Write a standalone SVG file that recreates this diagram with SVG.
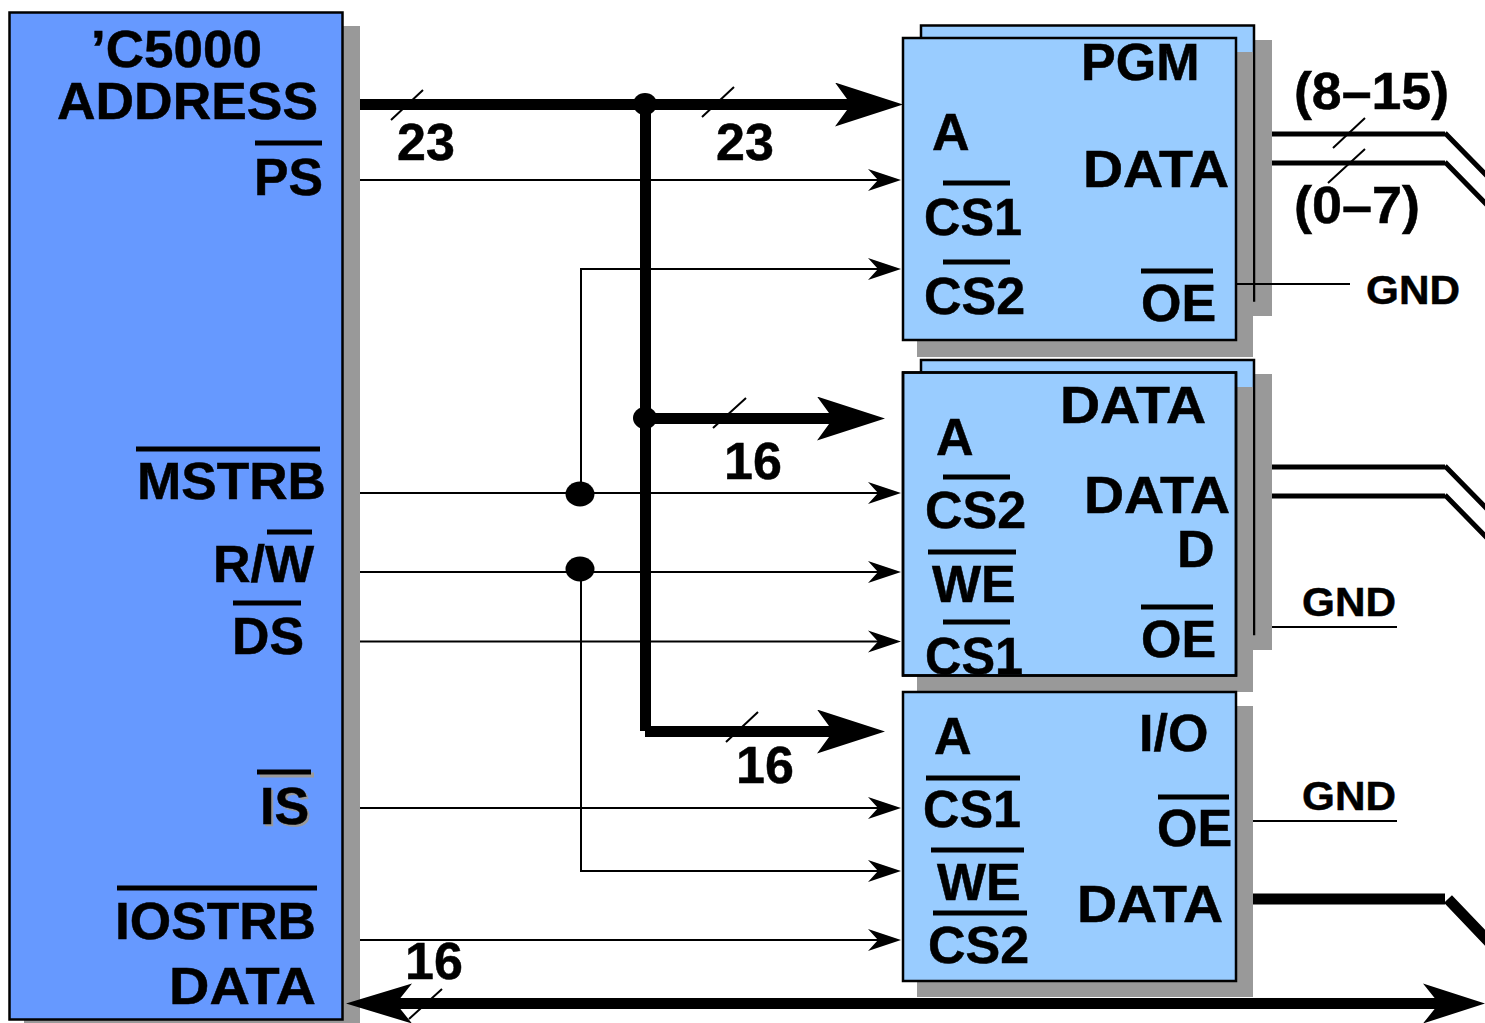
<svg xmlns="http://www.w3.org/2000/svg" width="1485" height="1023" viewBox="0 0 1485 1023">
<style>
text{font-family:"Liberation Sans",Arial,sans-serif;font-weight:700;font-size:52px;fill:#000;stroke:#000;stroke-width:.5}
.gnd{font-size:41px}
.ol{stroke:#000;stroke-width:5;fill:none}
.sh{fill:#999}
.main{fill:#69f;stroke:#000;stroke-width:2.500}
.chip{fill:#9cf;stroke:#000;stroke-width:2.500}
.frame{fill:none;stroke:#000;stroke-width:2.500}
.thin{stroke:#000;stroke-width:2;fill:none}
.tick{stroke:#000;stroke-width:2;fill:none}
.bus{stroke:#000;stroke-width:11;fill:none}
.dbl{stroke:#000;stroke-width:5;fill:none}
.ghost{fill:#999;stroke:#999}
</style>
<defs>
<marker id="a" markerUnits="userSpaceOnUse" markerWidth="33" markerHeight="24" viewBox="0 0 33 24" refX="10" refY="12" orient="auto"><path d="M0,1L33,12L0,23L10,12Z"/></marker>
<marker id="b" markerUnits="userSpaceOnUse" markerWidth="68" markerHeight="44" viewBox="0 0 68 44" refX="16" refY="22" orient="auto"><path d="M0,0L68,22L0,44L16,22Z"/></marker>
<marker id="c" markerUnits="userSpaceOnUse" markerWidth="62" markerHeight="42" viewBox="0 0 62 42" refX="16" refY="21" orient="auto"><path d="M0,1L62,21L0,41L16,21Z"/></marker>
<marker id="d" markerUnits="userSpaceOnUse" markerWidth="66" markerHeight="42" viewBox="0 0 66 42" refX="50" refY="21" orient="auto"><path d="M66,1L0,21L66,41L50,21Z"/></marker>
</defs>
<rect width="1485" height="1023" fill="#fff"/>

<g id="dsp">
<rect class="sh" x="24" y="26" width="336" height="997"/>
<rect class="main" x="9.500" y="12.500" width="333" height="1007"/>
<text x="91" y="67" textLength="171" lengthAdjust="spacingAndGlyphs">’C5000</text>
<text x="57" y="119" textLength="261" lengthAdjust="spacingAndGlyphs">ADDRESS</text>
<text x="254" y="195" textLength="69" lengthAdjust="spacingAndGlyphs">PS</text><line class="ol" x1="255" y1="143" x2="322" y2="143"/>
<text x="137" y="499" textLength="189" lengthAdjust="spacingAndGlyphs">MSTRB</text><line class="ol" x1="136" y1="449" x2="320" y2="449"/>
<text x="213" y="582">R/W</text><line class="ol" x1="267" y1="532" x2="312" y2="532"/>
<text x="232" y="654" textLength="72" lengthAdjust="spacingAndGlyphs">DS</text><line class="ol" x1="233" y1="603" x2="301" y2="603"/>
<text class="ghost" x="262" y="826">IS</text><line class="ol" style="stroke:#999" x1="260" y1="775" x2="314" y2="775"/>
<text x="260" y="824">IS</text><line class="ol" x1="257" y1="772" x2="311" y2="772"/>
<text x="115" y="939" textLength="201" lengthAdjust="spacingAndGlyphs">IOSTRB</text><line class="ol" x1="117" y1="888" x2="317" y2="888"/>
<text x="169" y="1004" textLength="147" lengthAdjust="spacingAndGlyphs">DATA</text>
</g>

<g id="chip-pgm">
<rect class="sh" x="938" y="40" width="334" height="276"/>
<rect class="chip" x="921" y="25.500" width="333" height="275"/>
<rect class="sh" x="917" y="52" width="336" height="305"/>
<rect class="chip" x="903" y="38" width="333" height="302"/>
<text x="1081" y="80">PGM</text>
<text x="932" y="150">A</text>
<text x="924" y="235" textLength="98" lengthAdjust="spacingAndGlyphs">CS1</text><line class="ol" x1="943" y1="183" x2="1010" y2="183"/>
<text x="924" y="314">CS2</text><line class="ol" x1="943" y1="262" x2="1010" y2="262"/>
<text x="1083" y="187" textLength="146" lengthAdjust="spacingAndGlyphs">DATA</text>
<text x="1141" y="321">OE</text><line class="ol" x1="1141" y1="271" x2="1213" y2="271"/>
<text class="gnd" x="1366" y="304" textLength="94" lengthAdjust="spacingAndGlyphs">GND</text>
<text x="1294" y="109" textLength="155" lengthAdjust="spacingAndGlyphs">(8–15)</text>
<text x="1294" y="223" textLength="126" lengthAdjust="spacingAndGlyphs">(0–7)</text>
</g>

<g id="chip-data">
<rect class="sh" x="938" y="374" width="334" height="276"/>
<rect class="chip" x="921" y="360" width="333" height="274"/>
<rect class="sh" x="917" y="387" width="336" height="305"/>
<rect class="chip" x="903" y="372.500" width="333" height="303"/>
<text x="1060" y="423" textLength="146" lengthAdjust="spacingAndGlyphs">DATA</text>
<text x="936" y="455">A</text>
<text x="925" y="528">CS2</text><line class="ol" x1="943" y1="477" x2="1010" y2="477"/>
<text x="1084" y="513" textLength="146" lengthAdjust="spacingAndGlyphs">DATA</text>
<text x="1177" y="567">D</text>
<text x="932" y="602">WE</text><line class="ol" x1="928" y1="552" x2="1016" y2="552"/>
<text x="925" y="674" textLength="98" lengthAdjust="spacingAndGlyphs">CS1</text><line class="ol" x1="943" y1="622" x2="1010" y2="622"/>
<text x="1141" y="657">OE</text><line class="ol" x1="1141" y1="607" x2="1213" y2="607"/>
<text class="gnd" x="1302" y="616" textLength="94" lengthAdjust="spacingAndGlyphs">GND</text>
<rect class="frame" x="903" y="372.500" width="333" height="303"/>
</g>

<g id="chip-io">
<rect class="sh" x="917" y="706" width="336" height="291"/>
<rect class="chip" x="903" y="692" width="333" height="289"/>
<text x="934" y="754">A</text>
<text x="1139" y="751">I/O</text>
<text x="923" y="827" textLength="98" lengthAdjust="spacingAndGlyphs">CS1</text><line class="ol" x1="926" y1="778" x2="1020" y2="778"/>
<text x="937" y="900">WE</text><line class="ol" x1="931" y1="850" x2="1024" y2="850"/>
<text x="928" y="963">CS2</text><line class="ol" x1="933" y1="913" x2="1027" y2="913"/>
<text x="1157" y="846">OE</text><line class="ol" x1="1158" y1="797" x2="1229" y2="797"/>
<text x="1077" y="922" textLength="146" lengthAdjust="spacingAndGlyphs">DATA</text>
<text class="gnd" x="1302" y="810" textLength="94" lengthAdjust="spacingAndGlyphs">GND</text>
</g>

<g id="connectors">
<path class="thin" d="M360,180H878" marker-end="url(#a)"/>
<path class="thin" d="M581,494V269H878" marker-end="url(#a)"/>
<path class="thin" d="M360,493H878" marker-end="url(#a)"/>
<path class="thin" d="M360,572H878" marker-end="url(#a)"/>
<path class="thin" d="M360,641.500H878" marker-end="url(#a)"/>
<path class="thin" d="M360,808H878" marker-end="url(#a)"/>
<path class="thin" d="M581,569V871H878" marker-end="url(#a)"/>
<path class="thin" d="M360,940H878" marker-end="url(#a)"/>
<path class="bus" d="M360,104.500H851" marker-end="url(#b)"/>
<path class="bus" d="M645.500,104V731"/>
<path class="bus" d="M645,418.500H833" marker-end="url(#b)"/>
<path class="bus" d="M645,731.500H833" marker-end="url(#b)"/>
<path class="bus" d="M396,1003.500H1439" marker-start="url(#d)" marker-end="url(#c)"/>
<ellipse cx="645" cy="104" rx="12" ry="11"/>
<ellipse cx="645" cy="418" rx="12" ry="11"/>
<ellipse cx="580" cy="494" rx="14.500" ry="12.500"/>
<ellipse cx="580" cy="569" rx="14.500" ry="12.500"/>
<path class="tick" d="M391,120L423,90M702,117L734,87M713,428L746,398M726,742L758,712M409,1019L442,989M1333,148L1365,118M1328,183L1365,149"/>
<path class="dbl" d="M1272,134H1445M1445,133L1490,179M1272,163H1445M1445,162L1490,208M1272,467H1445M1445,466L1490,512M1272,496H1445M1445,495L1490,541"/>
<path class="bus" d="M1253,899H1445M1448,899L1492,945"/>
<path class="thin" d="M1236,284H1350M1272,627H1397M1253,821H1397"/>
<text x="397" y="160">23</text>
<text x="716" y="160">23</text>
<text x="724" y="479">16</text>
<text x="736" y="783">16</text>
<text x="405" y="979">16</text>
</g>
</svg>
